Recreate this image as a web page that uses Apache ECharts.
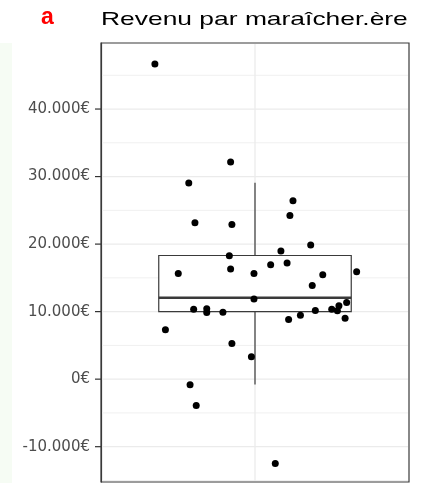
<!DOCTYPE html>
<html><head><meta charset="utf-8">
<script src="https://cdn.jsdelivr.net/npm/echarts@6/dist/echarts.min.js"></script>
<style>html,body{margin:0;padding:0;background:#fff}#c{width:436px;height:483px}</style>
</head><body><div id="c"></div>
<script>
// ---- data ----
const titleText = 'Revenu par maraîcher.ère';
const panelLetter = 'a';
const yTicks = [-10000, 0, 10000, 20000, 30000, 40000];
const yMinor = [-15000, -5000, 5000, 15000, 25000, 35000, 45000];
const yRange = [-15230, 49780];
const xRange = [0.4, 1.6];
const boxX = [1];
// low whisker, Q1, median, Q3, high whisker
const boxStats = [[-800, 10015, 12044, 18311, 29100]];
const jitterX = [0.610, 0.905, 0.742, 1.148, 1.136, 0.766, 0.910, 1.217, 1.101, 0.900,
  0.701, 0.905, 0.996, 1.061, 1.125, 1.264, 1.396, 1.223, 0.996, 0.761,
  0.812, 0.812, 0.875, 1.131, 1.177, 1.235, 1.299, 1.321, 1.327, 1.357,
  1.351, 0.651, 0.910, 0.986, 0.747, 0.771, 1.079];
const revenu = [46667, 32148, 29037, 26415, 24237, 23156, 22904, 19852, 18963, 18267,
  15644, 16296, 15644, 16933, 17185, 15452, 15896, 13867, 11852, 10370,
  10415, 9867, 9926, 8830, 9481, 10163, 10370, 10119, 10859, 11348,
  9037, 7304, 5274, 3304, -844, -3911, -12504];

// ---- chart ----
function euro(v) {
  const s = Math.abs(v).toString().replace(/\B(?=(\d{3})+(?!\d))/g, '.');
  return (v < 0 ? '-' : '') + s + '€';
}
const chart = echarts.init(document.getElementById('c'), null, {renderer: 'canvas'});
const gridLineData = yTicks.map(v => [v, 1]).concat(yMinor.map(v => [v, 0]));
chart.setOption({
  animation: false,
  backgroundColor: '#fff',
  graphic: [
    {type: 'rect', left: 0, top: 43, shape: {width: 12, height: 440}, style: {fill: '#f6fcf4'}, silent: true},
    {type: 'text', x: 47.5, y: 18, style: {text: panelLetter, fill: '#ff0000',
      font: 'bold 23px "Liberation Sans"', align: 'center', verticalAlign: 'middle'}},
    {type: 'text', x: 101, y: 19.5, scaleX: 1.39, originX: 0,
      style: {text: titleText, fill: '#000', font: '19px "Liberation Sans"', align: 'left', verticalAlign: 'middle'}}
  ],
  grid: {left: 101, right: 27, top: 43, bottom: 1, show: true, borderColor: '#3a3a3a', borderWidth: 1.2, backgroundColor: 'transparent'},
  xAxis: {type: 'value', min: xRange[0], max: xRange[1], show: false},
  yAxis: {
    type: 'value', min: yRange[0], max: yRange[1],
    axisLine: {show: true, onZero: false, lineStyle: {color: '#3a3a3a', width: 1.2}},
    splitLine: {show: false},
    axisTick: {show: false},
    axisLabel: {customValues: yTicks, formatter: euro, margin: 11, color: '#4d4d4d',
      fontFamily: 'DejaVu Sans', fontSize: 15}
  },
  series: [
    {
      type: 'custom', z: 1, silent: true, clip: false,
      data: gridLineData,
      encode: {y: 0},
      renderItem: (params, api) => {
        const cs = params.coordSys;
        const y = api.coord([xRange[0], api.value(0)])[1];
        const major = api.value(1) === 1;
        const children = [{type: 'line', shape: {x1: cs.x + 1, y1: y, x2: cs.x + cs.width - 1, y2: y},
          style: {stroke: major ? '#ebebeb' : '#f0f0f0', lineWidth: major ? 1.3 : 1}}];
        if (major) {
          children.push({type: 'line', shape: {x1: cs.x - 6, y1: y, x2: cs.x, y2: y},
            style: {stroke: '#333', lineWidth: 1.2}});
        }
        return {type: 'group', children};
      }
    },
    {
      type: 'custom', z: 1, silent: true,
      data: boxX.map(v => [v]),
      encode: {x: 0},
      renderItem: (params, api) => {
        const cs = params.coordSys;
        const x = api.coord([api.value(0), yRange[0]])[0];
        return {type: 'line', shape: {x1: x, y1: cs.y + 1, x2: x, y2: cs.y + cs.height - 1},
          style: {stroke: '#ebebeb', lineWidth: 1.3}};
      }
    },
    {
      type: 'custom', z: 3, silent: true,
      data: boxX.map((x, i) => [x].concat(boxStats[i])),
      encode: {x: 0, y: [1, 2, 3, 4, 5]},
      renderItem: (params, api) => {
        const x = api.value(0);
        const lo = api.coord([x, api.value(1)]);
        const q1 = api.coord([x, api.value(2)]);
        const md = api.coord([x, api.value(3)]);
        const q3 = api.coord([x, api.value(4)]);
        const hi = api.coord([x, api.value(5)]);
        const w = api.size([0.75, 0])[0];
        const cx = lo[0];
        const stroke = '#3a3a3a';
        return {type: 'group', children: [
          {type: 'line', shape: {x1: cx, y1: hi[1], x2: cx, y2: q3[1]}, style: {stroke, lineWidth: 1.2}},
          {type: 'line', shape: {x1: cx, y1: q1[1], x2: cx, y2: lo[1]}, style: {stroke, lineWidth: 1.2}},
          {type: 'rect', shape: {x: cx - w / 2, y: q3[1], width: w, height: q1[1] - q3[1]},
            style: {fill: '#fff', stroke, lineWidth: 1.2}},
          {type: 'line', shape: {x1: cx - w / 2, y1: md[1], x2: cx + w / 2, y2: md[1]},
            style: {stroke, lineWidth: 2.5}}
        ]};
      }
    },
    {
      type: 'scatter', z: 4, symbol: 'circle', symbolSize: 7,
      itemStyle: {color: '#000', opacity: 1},
      data: jitterX.map((x, i) => [x, revenu[i]])
    }
  ]
});
</script>
</body></html>
